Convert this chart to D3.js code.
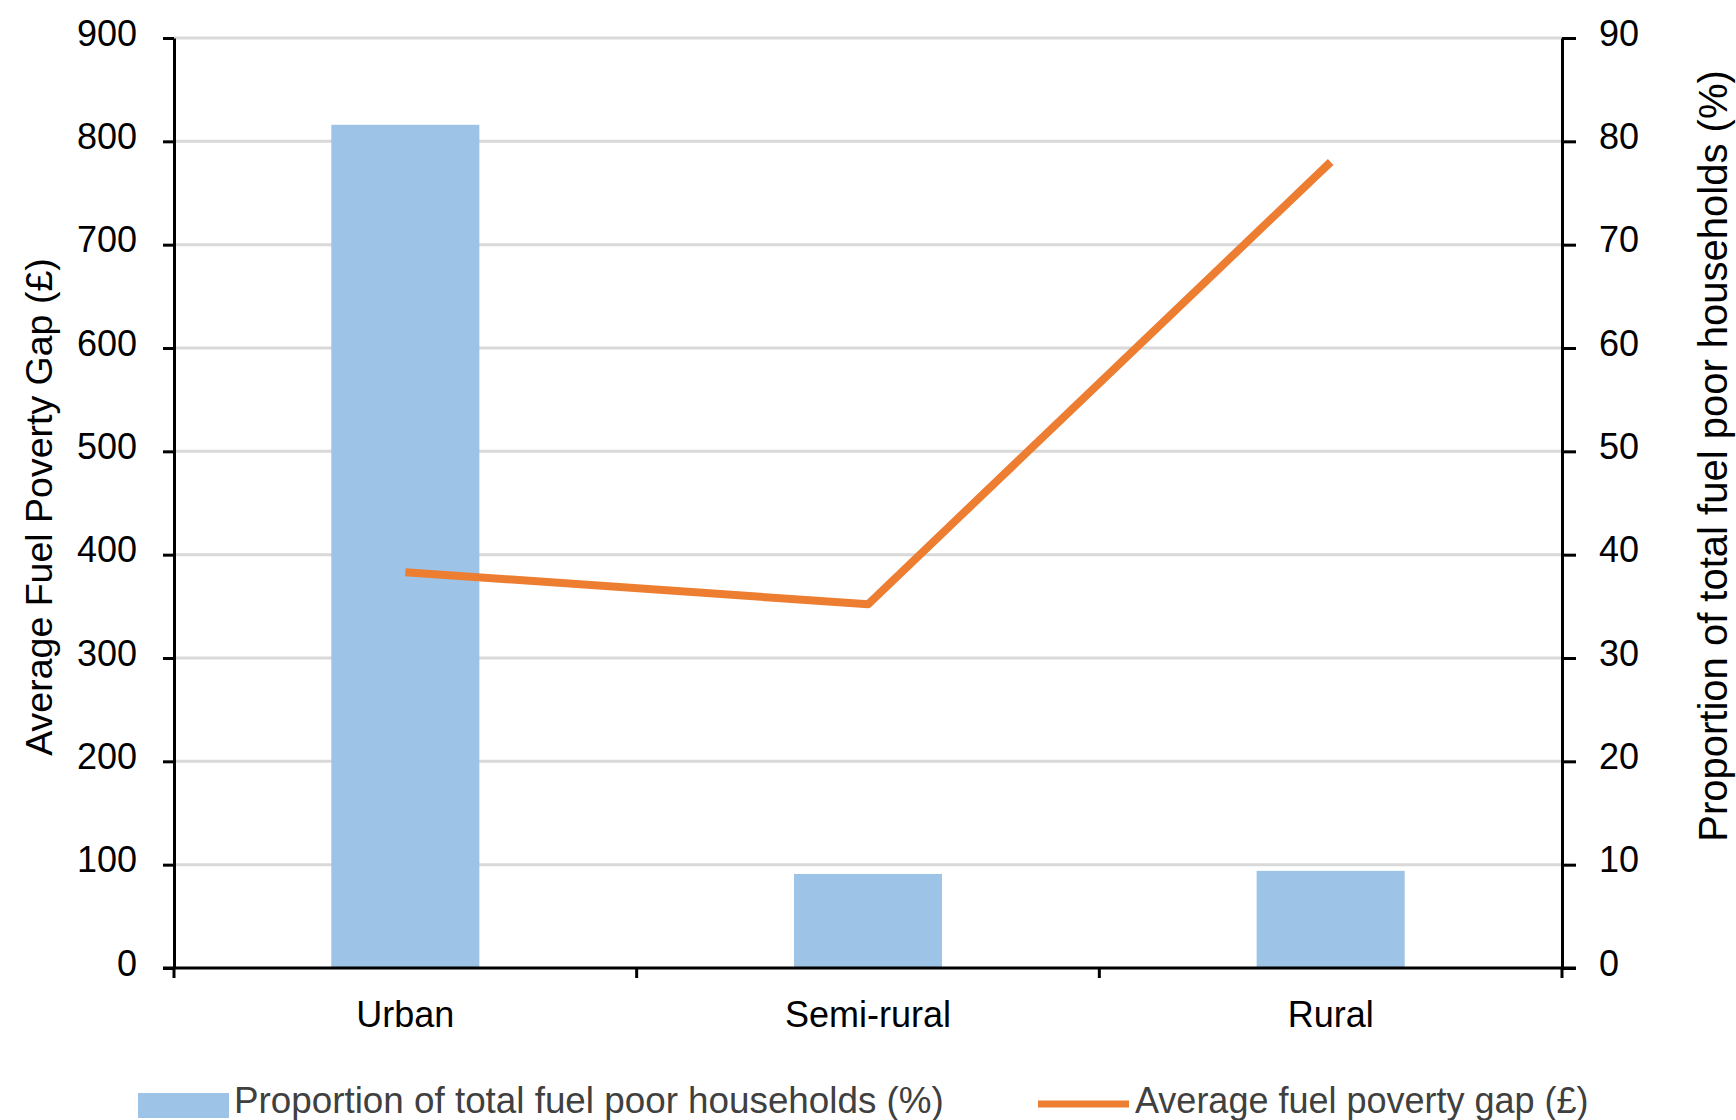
<!DOCTYPE html>
<html>
<head>
<meta charset="utf-8">
<script src="https://cdn.jsdelivr.net/npm/d3@7"></script>
<style>
  html, body { margin: 0; padding: 0; background: #ffffff; }
  svg { display: block; font-family: "Liberation Sans", Arial, sans-serif; }
</style>
</head>
<body>
<svg id="chart" width="1736" height="1120"></svg>
<script>
const categories = ["Urban", "Semi-rural", "Rural"];
const proportionValues = [81.6, 9.1, 9.4];      // bars, right axis (%)
const gapValues = [383, 352, 780];              // line, left axis (£)
const leftTicks = [0, 100, 200, 300, 400, 500, 600, 700, 800, 900];
const rightTicks = [0, 10, 20, 30, 40, 50, 60, 70, 80, 90];
const barLabel = "Proportion of total fuel poor households (%)";
const lineLabel = "Average fuel poverty gap (£)";
const leftTitle = "Average Fuel Poverty Gap (£)";
const rightTitle = "Proportion of total fuel poor households (%)";

const svg = d3.select("#chart");
const plotLeft = 174, plotRight = 1562, plotTop = 38, plotBottom = 968;

const x = d3.scaleBand().domain(categories).range([plotLeft, plotRight])
  .paddingInner(0.68).paddingOuter(0.34);
const yLeft = d3.scaleLinear().domain([0, 900]).range([plotBottom, plotTop]);
const yRight = d3.scaleLinear().domain([0, 90]).range([plotBottom, plotTop]);

// gridlines
svg.append("g").selectAll("line").data(leftTicks.filter(d => d > 0)).join("line")
  .attr("x1", plotLeft).attr("x2", plotRight)
  .attr("y1", d => yLeft(d)).attr("y2", d => yLeft(d))
  .attr("stroke", "#d9d9d9").attr("stroke-width", 3);

// bars
svg.append("g").selectAll("rect").data(categories).join("rect")
  .attr("x", d => x(d)).attr("width", x.bandwidth())
  .attr("y", (d, i) => yRight(proportionValues[i]))
  .attr("height", (d, i) => plotBottom - yRight(proportionValues[i]))
  .attr("fill", "#9dc3e6");

// line
const line = d3.line()
  .x((d, i) => x(categories[i]) + x.bandwidth() / 2)
  .y(d => yLeft(d));
svg.append("path").datum(gapValues).attr("d", line)
  .attr("fill", "none").attr("stroke", "#ed7d31").attr("stroke-width", 8)
  .attr("stroke-linejoin", "round");

// left axis
const gL = svg.append("g").attr("transform", `translate(${plotLeft},0)`)
  .call(d3.axisLeft(yLeft).tickValues(leftTicks).tickSize(11).tickSizeOuter(0).tickPadding(26));
// right axis
const gR = svg.append("g").attr("transform", `translate(${plotRight},0)`)
  .call(d3.axisRight(yRight).tickValues(rightTicks).tickSize(14).tickSizeOuter(0).tickPadding(23));
[gL, gR].forEach(g => {
  g.select(".domain").attr("stroke", "#000").attr("stroke-width", 3);
  g.selectAll(".tick line").attr("stroke", "#000").attr("stroke-width", 3);
  g.selectAll(".tick text").attr("fill", "#000").attr("font-size", 36)
    .attr("font-family", "Liberation Sans, Arial, sans-serif").attr("dy", "0.2em");
});

// bottom axis (category labels)
const gB = svg.append("g").attr("transform", `translate(0,${plotBottom})`)
  .call(d3.axisBottom(x).tickSize(0).tickSizeOuter(0));
gB.select(".domain").attr("stroke", "#000").attr("stroke-width", 3)
  .attr("d", `M${plotLeft - 11},0H${plotRight + 14}`);
gB.selectAll(".tick text").attr("fill", "#000").attr("font-size", 36)
  .attr("font-family", "Liberation Sans, Arial, sans-serif")
  .attr("y", 59).attr("dy", 0);
// category separator ticks
const boundaries = [plotLeft].concat(categories.map(c => x(c) + x.bandwidth() + x.step() * x.paddingInner() / 2));
boundaries[boundaries.length - 1] = plotRight;
gB.selectAll(".sep").data(boundaries).join("line").attr("class", "sep")
  .attr("x1", d => d).attr("x2", d => d).attr("y1", 0).attr("y2", 10)
  .attr("stroke", "#000").attr("stroke-width", 3);

// axis titles
svg.append("text").attr("transform", "translate(52,507) rotate(-90)")
  .attr("text-anchor", "middle").attr("font-size", 37.5).attr("fill", "#000")
  .text(leftTitle);
svg.append("text").attr("transform", "translate(1727,456) rotate(-90)")
  .attr("text-anchor", "middle").attr("font-size", 40).attr("fill", "#000")
  .text(rightTitle);

// legend
const lg = svg.append("g");
lg.append("rect").attr("x", 138).attr("y", 1093).attr("width", 91).attr("height", 25).attr("fill", "#9dc3e6");
lg.append("text").attr("x", 234).attr("y", 1113).attr("font-size", 36.8).attr("fill", "#404040").text(barLabel);
lg.append("line").attr("x1", 1038).attr("x2", 1129).attr("y1", 1104).attr("y2", 1104)
  .attr("stroke", "#ed7d31").attr("stroke-width", 7);
lg.append("text").attr("x", 1135).attr("y", 1113).attr("font-size", 36).attr("fill", "#404040").text(lineLabel);
</script>
</body>
</html>
